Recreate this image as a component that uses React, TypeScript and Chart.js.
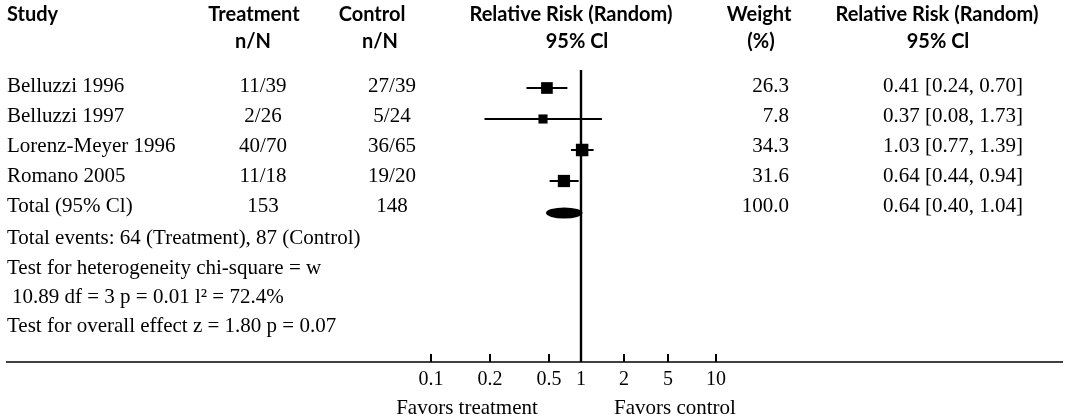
import React, { useEffect, useRef } from 'react';
import { Chart, registerables } from 'chart.js';

Chart.register(...registerables);

// ---------- data ----------
const studies = ['Belluzzi 1996', 'Belluzzi 1997', 'Lorenz-Meyer 1996', 'Romano 2005'];
const treatmentNN = ['11/39', '2/26', '40/70', '11/18'];
const controlNN = ['27/39', '5/24', '36/65', '19/20'];
const riskRatio = [0.41, 0.37, 1.03, 0.64];
const ciLower = [0.24, 0.08, 0.77, 0.44];
const ciUpper = [0.7, 1.73, 1.39, 0.94];
const weights = [26.3, 7.8, 34.3, 31.6];

const totalLabel = 'Total (95% Cl)';
const totalTreatment = '153';
const totalControl = '148';
const totalRR = 0.64;
const totalLower = 0.4;
const totalUpper = 1.04;
const totalWeight = 100.0;

const headerLine1 = ['Study', 'Treatment', 'Control', 'Relative Risk (Random)', 'Weight', 'Relative Risk (Random)'];
const headerLine2 = ['', 'n/N', 'n/N', '95% Cl', '(%)', '95% Cl'];

const footnotes = [
  'Total events: 64 (Treatment), 87 (Control)',
  'Test for heterogeneity chi-square = w',
  '10.89 df = 3 p = 0.01 l\u00B2 = 72.4%',
  'Test for overall effect z = 1.80 p = 0.07',
];

// tick labels of the bottom axis and the value on the plot scale where the reference puts each
const axisTickLabels = ['0.1', '0.2', '0.5', '1', '2', '5', '10'];
const axisTickAt = [0.0197, 0.0925, 0.433, 1, 3.08, 9.75, 34.2];
const favorsLabels = ['Favors treatment', 'Favors control'];

const HEAD_FONT = 'bold 20px Lato';
const BODY_FONT = '21px "Liberation Serif"';

export default function App() {
  const canvasRef = useRef<HTMLCanvasElement | null>(null);

  useEffect(() => {
    document.body.style.margin = '0';
    const canvas = canvasRef.current;
    if (!canvas) return;

    const ciSets = studies.map((_, i) => ({
      type: 'scatter' as const,
      data: [
        { x: ciLower[i], y: i },
        { x: ciUpper[i], y: i },
      ],
      showLine: true,
      borderColor: '#000',
      borderWidth: 2,
      pointRadius: 0,
      clip: false as any,
    }));

    const squareSet = {
      type: 'scatter' as const,
      data: riskRatio.map((v, i) => ({ x: v, y: i })),
      pointStyle: 'rect' as const,
      pointRadius: weights.map((w) => (6 + 6.5 * Math.sqrt(w / 34.3)) / Math.SQRT2),
      backgroundColor: '#000',
      borderColor: '#000',
      borderWidth: 0,
      clip: false as any,
    };

    const nullLine = {
      type: 'scatter' as const,
      data: [
        { x: 1, y: -0.58 },
        { x: 1, y: 8.839 },
      ],
      showLine: true,
      borderColor: '#000',
      borderWidth: 2.4,
      pointRadius: 0,
      clip: false as any,
    };

    const tablePlugin = {
      id: 'forestTable',
      afterDatasetsDraw(chart: any) {
        const ctx: CanvasRenderingContext2D = chart.ctx;
        const xs = chart.scales.x;
        const ys = chart.scales.y;
        ctx.save();
        ctx.fillStyle = '#000';
        ctx.strokeStyle = '#000';

        // header
        ctx.font = HEAD_FONT;
        ctx.textBaseline = 'alphabetic';
        const h1x = [7, 254, 372, 571, 759, 937];
        const h2x = [7, 253, 380, 577, 761, 938];
        headerLine1.forEach((t, i) => {
          ctx.textAlign = i === 0 ? 'left' : 'center';
          ctx.fillText(t, h1x[i], 21);
        });
        headerLine2.forEach((t, i) => {
          if (!t) return;
          ctx.textAlign = 'center';
          ctx.fillText(t, h2x[i], 48);
        });

        // rows
        ctx.font = BODY_FONT;
        const rowsName = [...studies, totalLabel];
        const rowsT = [...treatmentNN, totalTreatment];
        const rowsC = [...controlNN, totalControl];
        const rowsW = [...weights, totalWeight];
        const rowsRR = [...riskRatio, totalRR];
        const rowsLo = [...ciLower, totalLower];
        const rowsHi = [...ciUpper, totalUpper];
        rowsName.forEach((name, i) => {
          const by = 92 + 30 * i;
          ctx.textAlign = 'left';
          ctx.fillText(name, 7, by);
          ctx.textAlign = 'center';
          ctx.fillText(rowsT[i], 263, by);
          ctx.fillText(rowsC[i], 392, by);
          ctx.textAlign = 'right';
          ctx.fillText(rowsW[i].toFixed(1), 789, by);
          ctx.textAlign = 'left';
          ctx.fillText(
            `${rowsRR[i].toFixed(2)} [${rowsLo[i].toFixed(2)}, ${rowsHi[i].toFixed(2)}]`,
            883,
            by
          );
        });

        // pooled estimate (ellipse)
        const xl = xs.getPixelForValue(totalLower);
        const xh = xs.getPixelForValue(totalUpper);
        const cy = ys.getPixelForValue(studies.length) + 1;
        ctx.beginPath();
        ctx.ellipse((xl + xh) / 2, cy, (xh - xl) / 2, 5.5, 0, 0, Math.PI * 2);
        ctx.fill();

        // footnotes
        ctx.textAlign = 'left';
        const fy = [244, 274, 303, 332];
        footnotes.forEach((t, i) => {
          ctx.fillText(t, i === 2 ? 12 : 7, fy[i]);
        });

        // bottom axis
        const axisY = chart.chartArea.bottom;
        ctx.lineWidth = 1.5;
        ctx.beginPath();
        ctx.moveTo(6, axisY);
        ctx.lineTo(1063, axisY);
        ctx.stroke();
        ctx.lineWidth = 2;
        ctx.textAlign = 'center';
        ctx.font = '20px "Liberation Serif"';
        axisTickLabels.forEach((lab, i) => {
          const tx = Math.round(xs.getPixelForValue(axisTickAt[i]));
          if (lab !== '1') {
            ctx.beginPath();
            ctx.moveTo(tx, axisY - 8);
            ctx.lineTo(tx, axisY);
            ctx.stroke();
          }
          ctx.fillText(lab, tx, 385);
        });
        ctx.font = BODY_FONT;
        ctx.fillText(favorsLabels[0], 467, 414);
        ctx.fillText(favorsLabels[1], 675, 414);
        ctx.restore();
      },
    };

    const chart = new Chart(canvas, {
      type: 'scatter',
      data: { datasets: [...ciSets, squareSet, nullLine] as any },
      options: {
        animation: false,
        responsive: false,
        devicePixelRatio: 1,
        layout: { padding: { left: 405, right: 313, top: 57, bottom: 54 } },
        plugins: { legend: { display: false }, tooltip: { enabled: false }, title: { display: false } },
        scales: {
          x: { type: 'logarithmic', min: 0.01, max: 100, display: false },
          y: { type: 'linear', min: -1, max: 8.839, reverse: true, display: false },
        },
      },
      plugins: [tablePlugin],
    });

    return () => chart.destroy();
  }, []);

  return (
    <div style={{ width: 1070, height: 416, background: '#fff' }}>
      <canvas ref={canvasRef} width={1070} height={416} style={{ display: 'block' }} />
    </div>
  );
}
